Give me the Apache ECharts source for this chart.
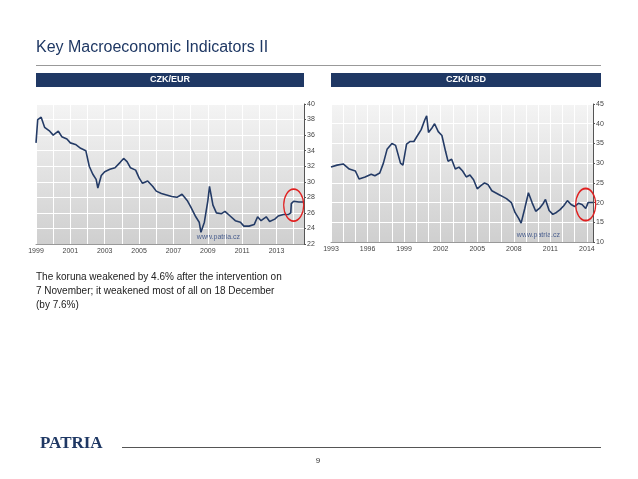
<!DOCTYPE html>
<html><head><meta charset="utf-8">
<script src="https://cdn.jsdelivr.net/npm/echarts@6/dist/echarts.min.js"></script>
<style>body{margin:0;background:#fff}#c{width:638px;height:479px}</style>
</head><body><div id="c"></div>
<script>
// CZK/EUR, [year, rate]
var eurYears = [1999.0,1999.1,1999.3,1999.5,1999.8,2000.0,2000.3,2000.5,2000.8,2001.0,2001.3,2001.6,2001.9,2002.1,2002.3,2002.5,2002.6,2002.8,2003.0,2003.3,2003.6,2003.9,2004.1,2004.3,2004.5,2004.8,2005.0,2005.2,2005.5,2005.8,2006.0,2006.3,2006.6,2006.9,2007.2,2007.5,2007.8,2008.0,2008.3,2008.5,2008.6,2008.8,2009.0,2009.1,2009.3,2009.5,2009.8,2010.0,2010.3,2010.6,2010.9,2011.1,2011.4,2011.7,2011.9,2012.1,2012.4,2012.6,2012.9,2013.1,2013.4,2013.7,2013.83,2013.86,2014.0,2014.3,2014.6];
var eurValues = [35,38,38.3,37,36.5,36,36.5,35.8,35.5,35,34.8,34.3,34,32,31,30.3,29.2,30.8,31.3,31.6,31.8,32.5,33,32.6,31.8,31.5,30.5,29.8,30.1,29.4,28.8,28.5,28.3,28.1,28.0,28.4,27.6,26.8,25.5,24.8,23.5,24.8,27.5,29.4,27,26,25.9,26.2,25.6,25,24.8,24.3,24.3,24.5,25.5,25,25.5,24.9,25.2,25.6,25.8,25.8,26.0,27.2,27.5,27.4,27.4];
// CZK/USD
var usdYears = [1993.0,1993.5,1994.0,1994.5,1995.0,1995.3,1995.8,1996.3,1996.6,1997.0,1997.3,1997.6,1998.0,1998.3,1998.7,1998.9,1999.2,1999.5,1999.8,2000.1,2000.4,2000.7,2000.85,2001.0,2001.3,2001.5,2001.8,2002.1,2002.4,2002.6,2002.9,2003.2,2003.5,2003.8,2004.1,2004.4,2004.7,2005.0,2005.3,2005.6,2005.9,2006.2,2006.5,2006.8,2007.1,2007.4,2007.8,2008.1,2008.4,2008.6,2008.9,2009.2,2009.5,2009.8,2010.1,2010.4,2010.6,2010.9,2011.2,2011.5,2011.8,2012.1,2012.4,2012.7,2013.0,2013.3,2013.6,2013.9,2014.1,2014.5];
var usdValues = [29,29.5,29.8,28.5,28,26,26.5,27.2,26.8,27.5,30,33.5,35,34.5,30,29.5,34.8,35.5,35.5,37,38.5,41,42,37.8,39,40,38,37,33,30.5,31,28.5,29,28,26.5,27,25.8,23.5,24.3,25,24.5,23,22.5,22,21.5,21,20,17.5,16,14.8,18.5,22.5,20,17.8,18.5,19.7,20.8,18,17,17.5,18.2,19.2,20.5,19.5,19,19.8,19.5,18.5,20,20];
var eurTicks = [1999,2001,2003,2005,2007,2009,2011,2013];
var usdTicks = [1993,1996,1999,2002,2005,2008,2011,2014];

function zip(a, b) { return a.map(function (x, i) { return [x, b[i]]; }); }

var navy = '#1f3864';
var bg = {type:'linear',x:0,y:0,x2:0,y2:1,colorStops:[{offset:0,color:'#f4f4f4'},{offset:1,color:'#cfcfcf'}]};

function xAxis(idx, min, max, ticks) {
    return {type:'value', gridIndex:idx, min:min, max:max, interval:1,
        axisLine:{show:true,lineStyle:{color:'#999'}}, axisTick:{show:false},
        splitLine:{show:true,lineStyle:{color:'#fff',width:1}},
        axisLabel:{fontSize:7,color:'#444',margin:4,showMaxLabel:true,
            formatter:function(v){return ticks.indexOf(Math.round(v))>=0 && Math.abs(v-Math.round(v))<1e-6 ? String(Math.round(v)) : '';}}};
}
function yAxis(idx, min, max, step) {
    return {type:'value', gridIndex:idx, position:'right', min:min, max:max, interval:step,
        axisLine:{show:true,lineStyle:{color:'#555'}}, axisTick:{show:true,length:2},
        splitLine:{show:true,lineStyle:{color:'#fff'}},
        axisLabel:{fontSize:7,color:'#444',margin:3}};
}
function series(idx, data, last) {
    return {type:'line', xAxisIndex:idx, yAxisIndex:idx, data:data, showSymbol:false,
        lineStyle:{color:'#243b66',width:1.6}, animation:false,
        markPoint:{symbol:'circle', symbolSize:[20,32], silent:true,
            itemStyle:{color:'rgba(255,255,255,0)',borderColor:'#e02020',borderWidth:1.5}, label:{show:false},
            data:[{coord:last}]}};
}

var chart = echarts.init(document.getElementById('c'));
chart.setOption({
    animation:false,
    grid:[
        {left:36,top:104,width:268,height:140,show:true,backgroundColor:bg,borderWidth:0},
        {left:331,top:104,width:262,height:138,show:true,backgroundColor:bg,borderWidth:0}
    ],
    xAxis:[xAxis(0,1999,2014.6,eurTicks), xAxis(1,1993,2014.5,usdTicks)],
    yAxis:[yAxis(0,22,40,2), yAxis(1,10,45,5)],
    series:[series(0, zip(eurYears,eurValues), [2014.0,27.0]), series(1, zip(usdYears,usdValues), [2013.9,19.5])],
    graphic:[
        {type:'text',left:36,top:40,style:{text:'Key Macroeconomic Indicators II',font:'16px Arial, Liberation Sans',fill:navy}},
        {type:'rect',shape:{x:36,y:65,width:565,height:1},style:{fill:'#999'}},
        {type:'rect',shape:{x:36,y:73,width:268,height:14},style:{fill:navy}},
        {type:'text',x:170,y:80,style:{text:'CZK/EUR',font:'bold 9px Arial, Liberation Sans',fill:'#fff',align:'center',verticalAlign:'middle'}},
        {type:'rect',shape:{x:331,y:73,width:270,height:14},style:{fill:navy}},
        {type:'text',x:466,y:80,style:{text:'CZK/USD',font:'bold 9px Arial, Liberation Sans',fill:'#fff',align:'center',verticalAlign:'middle'}},
        {type:'text',x:240,y:234,style:{text:'www.patria.cz',font:'7px Arial',fill:'#4a5f8f',align:'right'}},
        {type:'text',x:560,y:232,style:{text:'www.patria.cz',font:'7px Arial',fill:'#4a5f8f',align:'right'}},
        {type:'text',left:36,top:270,style:{text:'The koruna weakened by 4.6% after the intervention on\n7 November; it weakened most of all on 18 December\n(by 7.6%)',font:'10px Arial, Liberation Sans',fill:'#222',lineHeight:14}},
        {type:'text',left:40,top:435,style:{text:'PATRIA',font:'bold 17px Liberation Serif, serif',fill:navy}},
        {type:'rect',shape:{x:122,y:447,width:479,height:1},style:{fill:'#555'}},
        {type:'text',x:318,y:461,style:{text:'9',font:'8px Arial',fill:'#333',align:'center',verticalAlign:'middle'}}
    ]
});
</script></body></html>
